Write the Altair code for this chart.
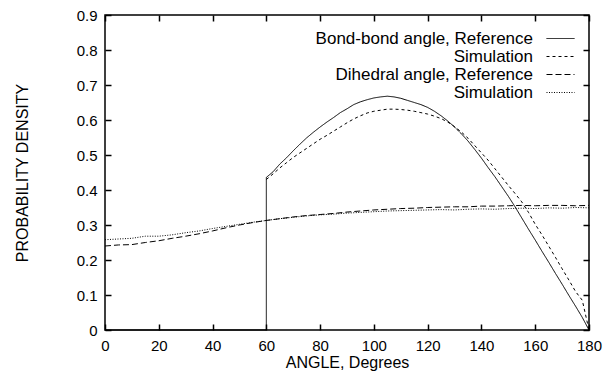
import altair as alt
import pandas as pd

# ---- data ----
bond_angle = [0, 60, 60, 62.5, 65, 67.5, 70, 72.5, 75, 77.5, 80, 82.5, 85, 87.5, 90,
              92.5, 95, 97.5, 100, 102.5, 105, 107.5, 110, 112.5, 115, 117.5, 120,
              122.5, 125, 127.5, 130, 132.5, 135, 137.5, 140, 142.5, 145, 147.5, 150,
              152.5, 155, 157.5, 160, 162.5, 165, 167.5, 170, 172.5, 175, 177.5, 180]
bond_ref = [0, 0, 0.436, 0.452, 0.474, 0.492, 0.512, 0.531, 0.549, 0.565, 0.580, 0.594,
            0.607, 0.621, 0.632, 0.644, 0.652, 0.658, 0.663, 0.666, 0.668, 0.666, 0.662,
            0.656, 0.650, 0.644, 0.636, 0.625, 0.612, 0.597, 0.580, 0.561, 0.540, 0.516,
            0.491, 0.464, 0.438, 0.410, 0.382, 0.352, 0.320, 0.288, 0.257, 0.225, 0.194,
            0.162, 0.131, 0.099, 0.068, 0.036, 0.0]

bond_sim_angle = bond_angle[2:]
bond_sim = [0.430, 0.446, 0.463, 0.478, 0.493, 0.506, 0.519, 0.532, 0.545, 0.556, 0.568,
            0.580, 0.592, 0.603, 0.612, 0.620, 0.625, 0.628, 0.631, 0.631, 0.630, 0.628,
            0.625, 0.621, 0.617, 0.611, 0.604, 0.594, 0.581, 0.566, 0.548, 0.527, 0.506,
            0.485, 0.461, 0.437, 0.413, 0.390, 0.366, 0.336, 0.302, 0.272, 0.240, 0.208,
            0.175, 0.143, 0.110, 0.085, 0.0]

dih_angle = [0, 5, 10, 15, 20, 25, 30, 35, 40, 45, 50, 55, 60, 65, 70, 75, 80, 85, 90,
             95, 100, 105, 110, 115, 120, 125, 130, 135, 140, 145, 150, 155, 160, 165,
             170, 175, 180]
dih_ref = [0.240, 0.243, 0.244, 0.250, 0.255, 0.262, 0.268, 0.275, 0.283, 0.292, 0.300,
           0.307, 0.313, 0.318, 0.323, 0.327, 0.330, 0.333, 0.337, 0.340, 0.343, 0.345,
           0.347, 0.348, 0.350, 0.351, 0.352, 0.352, 0.354, 0.354, 0.355, 0.356, 0.355,
           0.356, 0.356, 0.355, 0.356]
dih_sim = [0.258, 0.260, 0.262, 0.268, 0.268, 0.272, 0.278, 0.283, 0.290, 0.296, 0.302,
           0.308, 0.313, 0.318, 0.322, 0.326, 0.329, 0.331, 0.334, 0.336, 0.338, 0.340,
           0.341, 0.342, 0.343, 0.344, 0.343, 0.345, 0.346, 0.345, 0.347, 0.348, 0.347,
           0.349, 0.348, 0.350, 0.349]

series_names = ["Bond-bond angle, Reference", "Bond-bond angle, Simulation",
                "Dihedral angle, Reference", "Dihedral angle, Simulation"]
x_ticks = [0, 20, 40, 60, 80, 100, 120, 140, 160, 180]
y_ticks = [0, 0.1, 0.2, 0.3, 0.4, 0.5, 0.6, 0.7, 0.8, 0.9]

rows = []
for name, xs, ys in zip(series_names,
                        [bond_angle, bond_sim_angle, dih_angle, dih_angle],
                        [bond_ref, bond_sim, dih_ref, dih_sim]):
    for i, (a, v) in enumerate(zip(xs, ys)):
        rows.append({"series": name, "angle": a, "value": v, "idx": i})
df = pd.DataFrame(rows)

FONT = "Liberation Sans"
xscale = alt.Scale(domain=[0, 180], nice=False, zero=False)
yscale = alt.Scale(domain=[0, 0.9], nice=False)

lines = alt.Chart(df).mark_line(strokeWidth=1, color="black").encode(
    x=alt.X("angle:Q", scale=xscale,
            axis=alt.Axis(orient="bottom", values=x_ticks, offset=-6, tickSize=6,
                          domain=False, grid=False, labelFlush=False, labelPadding=8,
                          title="ANGLE, Degrees", titlePadding=1)),
    y=alt.Y("value:Q", scale=yscale,
            axis=alt.Axis(orient="left", values=y_ticks, offset=-6, tickSize=6,
                          domain=False, grid=False, labelFlush=False, labelPadding=8,
                          format="~g", title="PROBABILITY DENSITY", titlePadding=46)),
    strokeDash=alt.StrokeDash(
        "series:N",
        scale=alt.Scale(domain=series_names,
                        range=[[1, 0], [3, 3], [6, 3], [1, 1.5]]),
        legend=alt.Legend(orient="none", legendX=447, legendY=15, title=None,
                          symbolType="M-2,0H2", symbolSize=196, symbolStrokeWidth=1,
                          symbolStrokeColor="black", symbolFillColor="transparent",
                          labelAlign="right", labelLimit=400,
                          labelOffset={"expr": "-36"}, labelFontSize=17, labelFont=FONT,
                          labelColor="black", rowPadding=0,
                          labelExpr="indexof(datum.label, 'Simulation') >= 0 ? 'Simulation' : datum.label")),
    detail="series:N",
    order="idx:Q",
)

frame = alt.Chart(df).mark_line(opacity=0).encode(
    x=alt.X("angle:Q", scale=xscale,
            axis=alt.Axis(orient="top", values=x_ticks, offset=-6, tickSize=6,
                          domain=False, grid=False, labels=False, title=None)),
    y=alt.Y("value:Q", scale=yscale,
            axis=alt.Axis(orient="right", values=y_ticks, offset=-6, tickSize=6,
                          domain=False, grid=False, labels=False, title=None)),
    detail="series:N",
)

chart = alt.layer(lines, frame).resolve_scale(x="independent", y="independent").properties(
    width=484, height=315,
    autosize=alt.AutoSizeParams(type="none"),
    padding={"left": 105, "top": 15, "right": 15, "bottom": 42},
).configure_view(stroke="black", strokeWidth=1.5).configure_axis(
    tickColor="black", tickWidth=1.5, labelColor="black", titleColor="black",
    labelFont=FONT, titleFont=FONT, labelFontSize=15, titleFontSize=16,
    titleFontWeight="normal",
)

chart.save("out.html", embed_options={"renderer": "svg", "actions": False})
